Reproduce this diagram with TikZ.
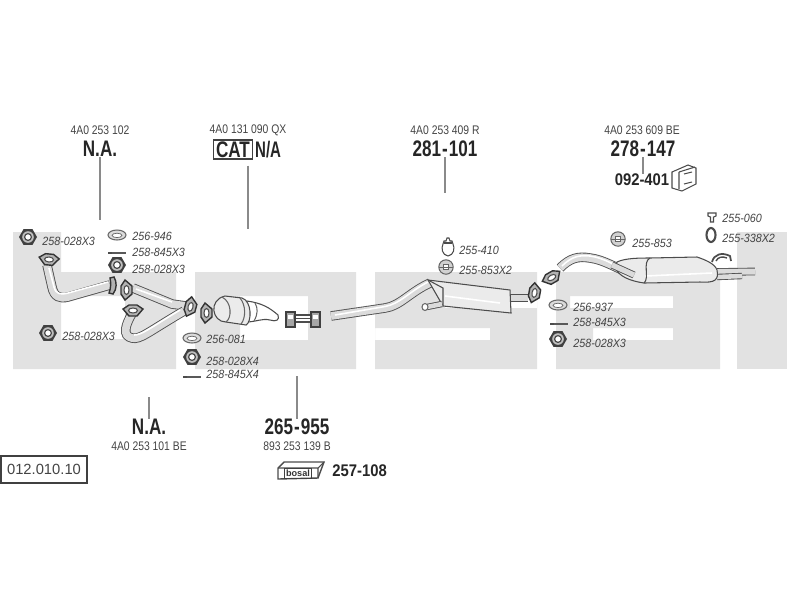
\documentclass[tikz,border=0pt]{standalone}
\usepackage{fontspec}
\usetikzlibrary{positioning}
\setmainfont{Liberation Sans}
\newfontfamily\plainlabel[FakeStretch=0.83]{Liberation Sans}
\newfontfamily\partlabel[FakeStretch=0.9]{Liberation Sans}
\newfontfamily\mainlabel[FakeStretch=0.76]{Liberation Sans}
\newfontfamily\sidelabel[FakeStretch=0.88]{Liberation Sans}
\definecolor{logogrey}{HTML}{E2E2E2}
\definecolor{inkgrey}{HTML}{444444}
\definecolor{pipegrey}{HTML}{505050}
\definecolor{leadgrey}{HTML}{8A8A8A}
\newcommand{\dashgap}{\kern0.05em-\kern0.05em}
\tikzset{
  every node/.style={inner sep=0pt},
  code/.style={font=\plainlabel\fontsize{7.1}{8}\selectfont,text=inkgrey},
  part/.style={font=\partlabel\itshape\fontsize{6.8}{8}\selectfont,text=inkgrey,anchor=west},
  main/.style={font=\mainlabel\bfseries\fontsize{12.8}{14}\selectfont,text=black!85},
  side/.style={font=\sidelabel\bfseries\fontsize{9.6}{11}\selectfont,text=black!85},
  leader/.style={draw=leadgrey,line width=0.7pt},
  pipe/.style={draw=pipegrey,line width=0.5pt,double=black!14,double distance=4.4pt},
  thinpipe/.style={pipe,double distance=2.6pt},
  seam/.style={draw=white,line width=0.9pt},
  body/.style={draw=black!70,line width=0.6pt,fill=black!8},
  nutpart/.pic={
    \fill [black!75] (0:9) -- (60:9) -- (120:9) -- (180:9) -- (240:9) -- (300:9) -- cycle;
    \fill [black!25] (0,0) circle (5.8);
    \draw [black!70,line width=0.7pt,fill=white] (0,0) circle (3.4);
  },
  washerpart/.pic={
    \draw [black!60,line width=0.6pt,fill=black!14] (0,0) ellipse (9 and 5);
    \draw [black!60,line width=0.4pt,fill=white] (0,0.4) ellipse (5 and 2.2);
  },
  boltpart/.pic={
    \draw [black!65,line width=0.8pt] (-8,0) -- (9,0);
    \fill [black!70] (-9,-1.3) rectangle (-5,1.3);
  },
  ringpart/.pic={
    \draw [black!60,line width=0.6pt,fill=black!18] (0,0) circle (7.2);
    \draw [black!60,line width=0.5pt,fill=white] (-2.5,-2.8) rectangle (2.5,2.8);
    \draw [black!60,line width=0.5pt] (-7,0) -- (7,0);
  },
  flangepart/.pic={
    \draw [black!80,line width=0.8pt,fill=black!30] (-10,-2) -- (-4,-6) -- (4,-6) -- (10,-2) -- (4,5) -- (-4,5) -- cycle;
    \draw [black!70,line width=0.6pt,fill=white] (0,-0.5) ellipse (4.5 and 2.5);
  }
}
\begin{document}
\begin{tikzpicture}[x=0.02cm,y=-0.02cm]
\useasboundingbox (0,0) rectangle (800,600);
% logo behind the parts
\fill [logogrey,even odd rule] (13,232) -- (61,232) -- (61,272) -- (176,272) -- (176,369) -- (13,369) -- cycle (61,296) rectangle (125,339);
\fill [logogrey,even odd rule] (195,272) rectangle (356,369) (240,296) rectangle (308,340);
\fill [logogrey,even odd rule] (375,272) rectangle (537,369) (445,297) rectangle (537,308) (375,328) rectangle (490,340);
\fill [logogrey,even odd rule] (556,272) rectangle (720,369) (570,296) rectangle (673,308) (593,328) rectangle (673,340);
\fill [logogrey] (737,232) rectangle (787,369);

% codes and numbers above
\node [code] (codeA) at (100,130) {4A0 253 102};
\node [main] (naA) at (100,149) {N.A.};
\node [code] (codeB) at (248,130) {4A0 131 090 QX};
\node [main,draw=black!75,line width=0.6pt,inner xsep=1.5pt,minimum height=19*0.02cm] (catbox) at (233,149.5) {CAT};
\node [main,right=1pt of catbox,xscale=0.88] (catna) {N/A};
\node [code] (codeC) at (445,130) {4A0 253 409 R};
\node [main] (mainC) at (445,149) {281\dashgap101};
\node [code] (codeD) at (642,130) {4A0 253 609 BE};
\node [main] (mainD) at (643,149) {278\dashgap147};
\node [side] (clampD) at (642,180) {092-401};

% codes and numbers below
\node [main] (naB) at (149,427) {N.A.};
\node [code] (codeE) at (149,446) {4A0 253 101 BE};
\node [main] (mainE) at (297,427) {265\dashgap955};
\node [code] (codeF) at (297,446) {893 253 139 B};
\node [side,anchor=west] (kit) at (332,471) {257-108};
\node [draw=black!75,line width=0.7pt,minimum width=86*0.02cm,minimum height=27*0.02cm,text=inkgrey,font=\fontsize{8.4}{10}\selectfont] (sheet) at (44,469.5) {012.010.10};

% leaders
\coordinate (endA) at (100,220);
\coordinate (endB) at (248,229);
\coordinate (endC) at (445,193);
\coordinate (endE) at (149,397);
\coordinate (endF) at (297,376);
\draw [leader] (naA.south -| endA) -- (endA);
\draw [leader,shorten <=6*0.02cm] (catbox.south -| endB) -- (endB);
\draw [leader] (mainC.south -| endC) -- (endC);
\draw [leader] (mainD.south) -- (clampD.north -| mainD.south);
\draw [leader] (naB.north -| endE) -- (endE);
\draw [leader] (mainE.north -| endF) -- (endF);

% small parts, left
\pic at (28,237) {nutpart};
\node [part] (lblA) at (42,241) {258-028X3};
\pic at (117,235) {washerpart};
\node [part] (lblB) at (132,236) {256-946};
\pic at (117,253) {boltpart};
\node [part] (lblC) at (132,252) {258-845X3};
\pic at (117,265) {nutpart};
\node [part] (lblD) at (132,269) {258-028X3};
\pic at (48,333) {nutpart};
\node [part] (lblE) at (62,336) {258-028X3};
\pic at (192,338) {washerpart};
\node [part] (lblF) at (206,339) {256-081};
\pic at (192,357) {nutpart};
\node [part] (lblG) at (206,361) {258-028X4};
\pic at (192,377) {boltpart};
\node [part] (lblH) at (206,374) {258-845X4};

% small parts, right
\pic at (446,267) {ringpart};
\node [part] (lblI) at (459,270) {255-853X2};
\draw [body,fill=white] (444,241) -- (443,244) .. controls (441,248) and (442,255) .. (448,256) .. controls (454,255) and (455,248) .. (453,244) -- (452,241) -- (450,241) -- (449,238) -- (447,238) -- (446,241) -- cycle;
\draw [black!70,line width=0.6pt] (444,243) -- (452,243);
\node [part] (lblJ) at (459,250) {255-410};
\pic at (618,239) {ringpart};
\node [part] (lblK) at (632,243) {255-853};
\draw [body,fill=white] (708,213) -- (716,213) -- (716,216) -- (713.5,217) -- (713.5,222) -- (710.5,222) -- (710.5,217) -- (708,216) -- cycle;
\node [part] (lblL) at (722,218) {255-060};
\draw [black!70,line width=1.2pt,fill=white] (711,235) ellipse (4.5 and 7);
\node [part] (lblM) at (722,238) {255-338X2};
\pic at (558,305) {washerpart};
\node [part] (lblN) at (573,307) {256-937};
\pic at (559,324) {boltpart};
\node [part] (lblO) at (573,322) {258-845X3};
\pic at (558,339) {nutpart};
\node [part] (lblP) at (573,343) {258-028X3};

% front pipe
\draw [pipe] (47,265) -- (52,287) .. controls (54,297) and (60,299) .. (68,297) -- (110,285);
\draw [seam] (49,268) -- (54,287) .. controls (56,294) and (60,295) .. (68,293) -- (108,282);
\pic [rotate=-5] at (49,260) {flangepart};
\draw [black!80,line width=0.8pt,fill=black!30] (110,278) -- (114,277) .. controls (117,282) and (117,289) .. (113,294) -- (109,293) .. controls (111,288) and (111,283) .. (110,278) -- cycle;

% y pipe
\draw [pipe] (133,288) -- (172,304) -- (186,306);
\draw [pipe] (133,312) .. controls (125,325) and (122,336) .. (132,338) .. controls (140,340) and (148,332) .. (184,311);
\draw [seam] (136,289) -- (172,302);
\draw [seam] (134,335) .. controls (142,335) and (150,328) .. (180,310);
\pic [rotate=90] at (127,290) {flangepart};
\pic at (133,311) {flangepart};
\pic [rotate=75] at (191,307) {flangepart};

% catalyst
\draw [body,fill=white] (247,301) .. controls (262,303) and (270,308) .. (278,315) .. controls (280,320) and (276,322) .. (270,320) .. controls (262,318) and (256,322) .. (246,322) -- cycle;
\draw [body] (225,296) -- (242,298) .. controls (252,301) and (252,322) .. (246,325) -- (226,322) .. controls (212,322) and (208,300) .. (225,296) -- cycle;
\draw [black!60,line width=0.6pt] (222,297) .. controls (232,302) and (232,318) .. (226,322);
\draw [black!60,line width=0.6pt] (240,298) .. controls (246,305) and (246,318) .. (241,324);
\draw [black!60,line width=0.6pt] (255,303) .. controls (258,308) and (258,314) .. (254,321);
\pic [rotate=90] at (207,313) {flangepart};

% clamp
\draw [body,fill=white,line width=1pt] (290,315) -- (315,315) -- (315,322) -- (290,322) -- cycle;
\draw [black!70,line width=1pt] (290,318.5) -- (315,318.5);
\draw [black!75,line width=0.8pt,fill=black!35] (286,312) rectangle (295,327);
\draw [black!75,line width=0.8pt,fill=black!35] (311,312) rectangle (320,327);
\fill [white] (288,315) rectangle (293,319);
\fill [white] (313,315) rectangle (318,319);

% centre silencer
\draw [pipe] (331,316) -- (385,308) .. controls (400,306) and (410,292) .. (430,283);
\draw [seam] (335,315) -- (385,306.5) .. controls (400,304) and (410,291) .. (428,282);
\draw [pipe,double distance=3.4pt] (510,298) -- (528,298);
\draw [body] (428,280) -- (510,290) -- (511,313) -- (443,306) -- cycle;
\draw [seam] (445,296) -- (500,303);
\draw [black!70,line width=0.6pt] (428,280) -- (443,288) -- (443,306);
\draw [thinpipe] (427,307) -- (442,304);
\draw [black!60,line width=0.6pt,fill=white] (425,307) ellipse (3 and 3.5);
\pic [rotate=80] at (535,293) {flangepart};

% rear silencer
\draw [pipe] (560,268) .. controls (570,258) and (578,256) .. (590,258) .. controls (605,260) and (615,268) .. (635,275);
\draw [seam] (562,266) .. controls (572,256) and (580,255) .. (590,256) .. controls (605,258) and (615,266) .. (632,273);
\draw [pipe,double distance=3.4pt] (717,272) -- (755,271.5);
\draw [thinpipe] (717,277) -- (742,276);
\draw [body] (617,262) .. controls (625,258) and (640,258) .. (650,258) -- (697,257) .. controls (706,260) and (715,264) .. (717,270) .. controls (719,280) and (715,283) .. (700,282) -- (644,283) .. controls (630,281) and (618,276) .. (616,268) -- cycle;
\draw [seam] (645,276) -- (712,273);
\draw [black!70,line width=0.6pt] (650,258) .. controls (642,262) and (650,278) .. (644,283);
\draw [pipe,double distance=3pt] (612,265) -- (634,275);
\draw [black!70,line width=1pt] (712,262) .. controls (714,254) and (722,252) .. (730,256) -- (731,261);
\draw [black!70,line width=0.8pt] (716,261) .. controls (718,257) and (722,256) .. (727,258);
\pic [rotate=30] at (552,278) {flangepart};

% clamp and kit symbols
\draw [body,fill=white] (672,172) -- (688,165) -- (696,168) -- (696,184) -- (682,191) -- (672,188) -- cycle;
\draw [black!70,line width=0.6pt] (679,172) -- (679,189) (679,172) -- (695,167);
\draw [black!70,line width=0.6pt] (684,174) -- (692,172) (684,184) -- (692,182);
\draw [body,fill=white,line width=0.8pt] (278,479) -- (278,468) -- (284,462) -- (324,462) -- (318,478) -- cycle;
\draw [black!70,line width=0.6pt] (278,468) -- (318,468) -- (324,462) (318,468) -- (318,478);
\node [draw=black!75,line width=0.5pt,inner xsep=1pt,inner ysep=0.8pt,font=\bfseries\fontsize{5.2}{6}\selectfont,text=black!80] (brand) at (298,473.5) {bosal};
\end{tikzpicture}
\end{document}
